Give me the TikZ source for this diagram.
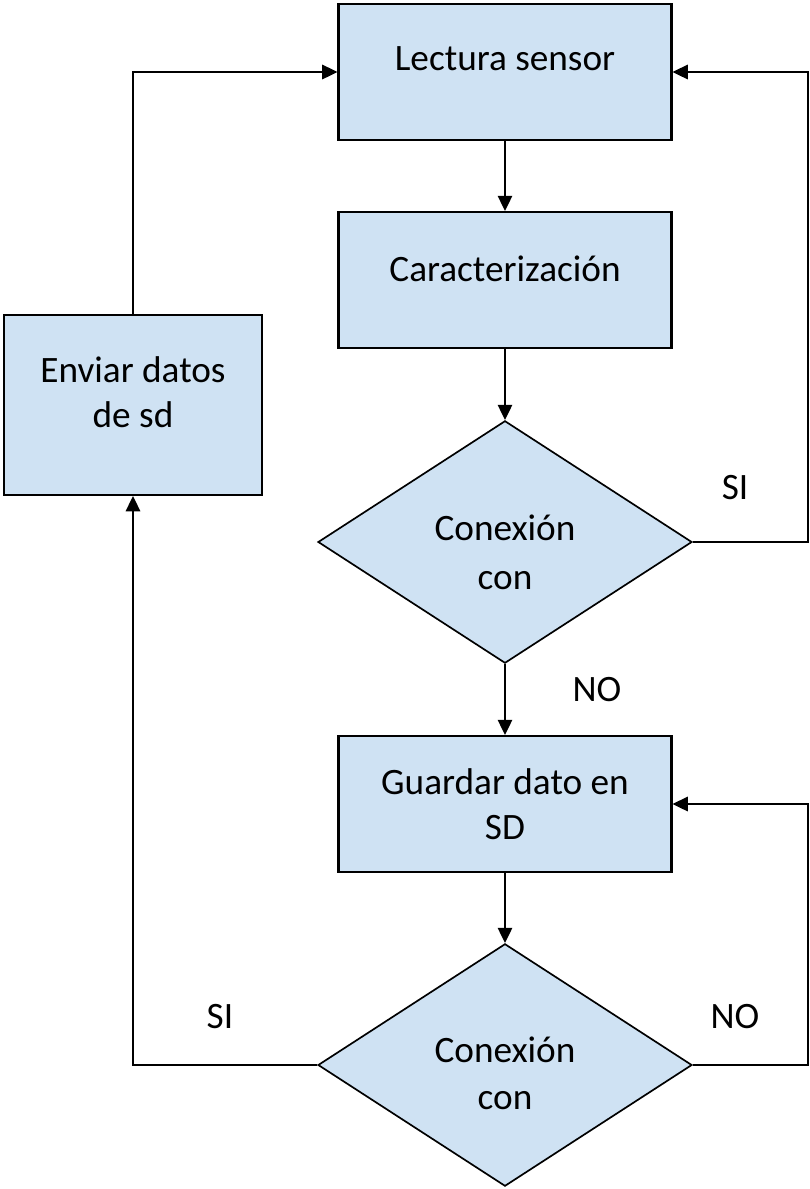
\documentclass[tikz,border=0pt]{standalone}
\usepackage{fontspec}
\setmainfont{Carlito}
\usetikzlibrary{shapes.geometric,arrows.meta}

\definecolor{boxblue}{RGB}{207,226,243}

\tikzset{
    procbox/.style={draw, line width=1.5pt, fill=boxblue, minimum width=8.325cm,
        minimum height=3.4cm, align=center, font=\fontsize{26.5}{32}\selectfont},
    decbox/.style={draw, line width=1.2pt, fill=boxblue, diamond, aspect=1.545,
        minimum width=9.35cm, minimum height=6.06cm, inner sep=1pt, align=center,
        font=\fontsize{26.5}{32}\selectfont},
    flow/.style={line width=1.4pt, -{Triangle[length=0.38cm,width=0.36cm]}},
    answer/.style={font=\fontsize{26.5}{32}\selectfont}
}

\begin{document}
\begin{tikzpicture}
    % Fix the page size
    \useasboundingbox (0,0) rectangle (20.225,-29.725);

    % Draw the boxes
    \node[procbox, text depth=0.65cm] (lectura) at (12.625,-1.8) {Lectura sensor};
    \node[procbox, text depth=0.55cm] (caract) at (12.625,-7.0) {Caracterización};
    \node[decbox] (conex1) at (12.625,-13.55) {\rule{0pt}{1.15cm}Conexión\\[3pt]con};
    \node[procbox] (guardar) at (12.625,-20.1) {Guardar dato en\\SD};
    \node[decbox] (conex2) at (12.625,-26.625) {\rule{0pt}{1.05cm}Conexión\\[1pt]con};
    \node[procbox, minimum width=6.45cm, minimum height=4.5cm] (enviar) at (3.325,-10.125)
        {Enviar datos\\de sd\\[-0.5cm]};

    % Add the answers
    \node[answer] (si1) at (18.375,-12.2) {SI};
    \node[answer] (no1) at (14.925,-17.25) {NO};
    \node[answer] (no2) at (18.375,-25.425) {NO};
    \node[answer] (si2) at (5.5,-25.425) {SI};

    % Draw the straight arrows
    \foreach \from/\to in {lectura/caract, caract/conex1, conex1/guardar, guardar/conex2} {
        \draw[flow] (\from.south) -- (\to.north);
    }

    % Draw the loops
    \coordinate (railR) at (20.2,0);
    \draw[flow] (conex1.east) -- (conex1.east -| railR) |- (lectura.east);
    \draw[flow] (conex2.east) -- (conex2.east -| railR) |- (guardar.east);
    \draw[flow] (conex2.west) -| (enviar.south);
    \draw[flow] (enviar.north) |- (lectura.west);
\end{tikzpicture}
\end{document}
